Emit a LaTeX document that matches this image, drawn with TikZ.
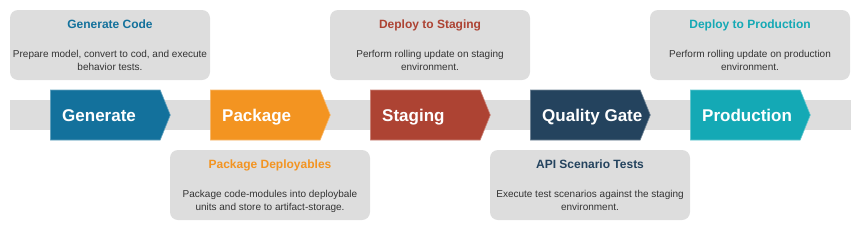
\documentclass[tikz,border=0pt]{standalone}
\usepackage{fontspec}
\setmainfont{Liberation Sans}
\usetikzlibrary{positioning, shapes.symbols}
\definecolor{genblue}{HTML}{13719C}
\definecolor{pkgorange}{HTML}{F39421}
\definecolor{stgred}{HTML}{AD4333}
\definecolor{gatenavy}{HTML}{24435E}
\definecolor{prodteal}{HTML}{14A9B5}
\definecolor{boxgrey}{HTML}{DDDDDD}
\definecolor{bodygrey}{HTML}{333333}

\tikzset{
  stage/.style={signal, signal to=east, signal from=nowhere, signal pointer angle=136,
    minimum width=120pt, minimum height=50pt, inner sep=0pt, anchor=west,
    fill=#1, draw=#1!65!white, line width=0.6pt},
  stagelabel/.style={text=white, font=\fontsize{17}{20}\selectfont\bfseries,
    inner sep=0pt, anchor=base west},
  infobox/.style={fill=boxgrey, rounded corners=8pt, minimum width=200pt,
    minimum height=70pt, inner sep=0pt},
  infotitle/.style={text=#1, font=\fontsize{12}{14}\selectfont\bfseries,
    inner sep=0pt, anchor=base},
  infotext/.style={text=bodygrey, font=\fontsize{10}{13}\selectfont, align=center, inner sep=0pt}
}

\begin{document}
\begin{tikzpicture}[x=1pt, y=-1pt]
  \useasboundingbox (0,0) rectangle (861,231);

  % the pipeline band
  \node[fill=boxgrey, minimum width=841pt, minimum height=30pt, inner sep=0pt] (band) at (430.5,115) {};

  % stages
  \node[stage=genblue] (gen) at (50,115) {};
  \node[stage=pkgorange] (pkg) at (210,115) {};
  \node[stage=stgred] (stg) at (370,115) {};
  \node[stage=gatenavy] (gate) at (530,115) {};
  \node[stage=prodteal] (prod) at (690,115) {};

  \node[stagelabel] (genlbl) at ([xshift=12pt, yshift=-6pt]gen.west) {Generate};
  \node[stagelabel] (pkglbl) at ([xshift=12pt, yshift=-6pt]pkg.west) {Package};
  \node[stagelabel] (stglbl) at ([xshift=12pt, yshift=-6pt]stg.west) {Staging};
  \node[stagelabel] (gatelbl) at ([xshift=12pt, yshift=-6pt]gate.west) {Quality Gate};
  \node[stagelabel] (prodlbl) at ([xshift=12pt, yshift=-6pt]prod.west) {Production};

  % info boxes above
  \node[infobox] (genbox) at (110,45) {};
  \node[infotitle=genblue] (gentitle) at ([yshift=-18.5pt]genbox.north) {Generate Code};
  \node[infotext] (gentext) at ([yshift=-16pt]genbox.center)
    {\strut Prepare model, convert to cod, and execute\\\strut behavior tests.};

  \node[infobox] (stgbox) at (430,45) {};
  \node[infotitle=stgred] (stgtitle) at ([yshift=-18.5pt]stgbox.north) {Deploy to Staging};
  \node[infotext] (stgtext) at ([yshift=-16pt]stgbox.center)
    {\strut Perform rolling update on staging\\\strut environment.};

  \node[infobox] (prodbox) at (750,45) {};
  \node[infotitle=prodteal] (prodtitle) at ([yshift=-18.5pt]prodbox.north) {Deploy to Production};
  \node[infotext] (prodtext) at ([yshift=-16pt]prodbox.center)
    {\strut Perform rolling update on production\\\strut environment.};

  % info boxes below
  \node[infobox] (pkgbox) at (270,185) {};
  \node[infotitle=pkgorange] (pkgtitle) at ([yshift=-18.5pt]pkgbox.north) {Package Deployables};
  \node[infotext] (pkgtext) at ([yshift=-16pt]pkgbox.center)
    {\strut Package code-modules into deploybale\\\strut units and store to artifact-storage.};

  \node[infobox] (gatebox) at (590,185) {};
  \node[infotitle=gatenavy] (gatetitle) at ([yshift=-18.5pt]gatebox.north) {API Scenario Tests};
  \node[infotext] (gatetext) at ([yshift=-16pt]gatebox.center)
    {\strut Execute test scenarios against the staging\\\strut environment.};
\end{tikzpicture}
\end{document}
